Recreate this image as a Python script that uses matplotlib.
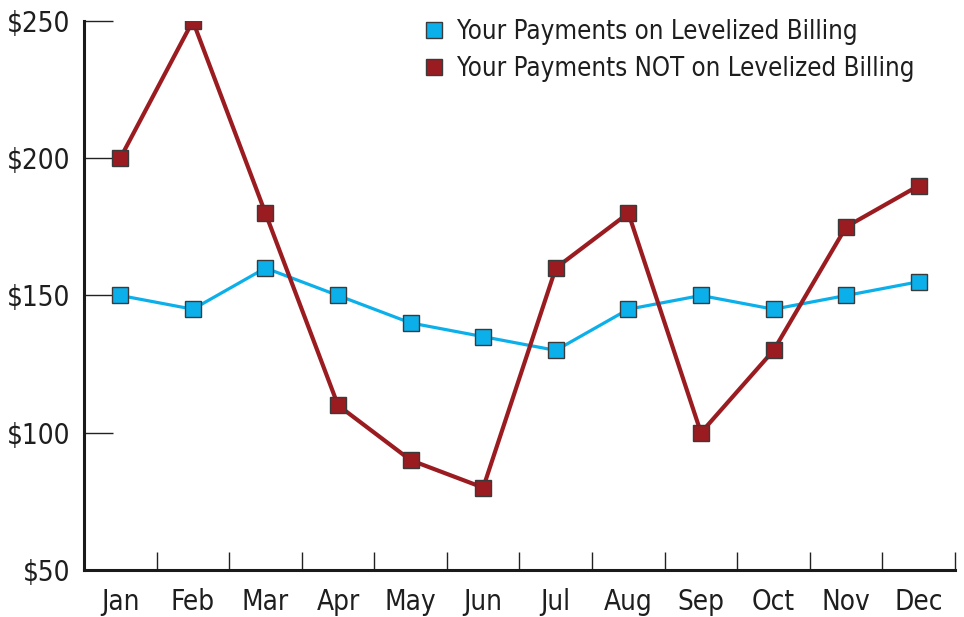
import matplotlib
matplotlib.use("Agg")
import matplotlib.pyplot as plt
from matplotlib.ticker import FixedLocator, NullFormatter

months = ["Jan", "Feb", "Mar", "Apr", "May", "Jun",
          "Jul", "Aug", "Sep", "Oct", "Nov", "Dec"]
levelized = [150, 145, 160, 150, 140, 135, 130, 145, 150, 145, 150, 155]
not_levelized = [200, 250, 180, 110, 90, 80, 160, 180, 100, 130, 175, 190]
y_ticks = [50, 100, 150, 200, 250]
y_labels = ["$50", "$100", "$150", "$200", "$250"]

BLUE = "#0bb0ea"
RED = "#9b1c20"
EDGE = "#3a3a3a"
TXT = "#1e1e1e"

plt.rcParams["font.family"] = ["DejaVu Sans"]
plt.rcParams["font.stretch"] = "condensed"

fig = plt.figure(figsize=(9.64, 6.17), dpi=100)
ax = fig.add_axes([0.0871, 0.0762, 0.9036, 0.8898])

x = [i + 0.5 for i in range(len(months))]
ax.plot(x, levelized, color=BLUE, lw=2.3, marker="s", ms=11,
        mfc=BLUE, mec=EDGE, mew=1.0, label="Your Payments on Levelized Billing", zorder=3)
ax.plot(x, not_levelized, color=RED, lw=3, marker="s", ms=11,
        mfc=RED, mec=EDGE, mew=1.0, label="Your Payments NOT on Levelized Billing", zorder=4)

ax.set_xlim(0, 12)
ax.set_ylim(50, 250)

# month names centred, tick marks between months
ax.xaxis.set_major_locator(FixedLocator(range(13)))
ax.xaxis.set_major_formatter(NullFormatter())
ax.xaxis.set_minor_locator(FixedLocator(x))
ax.set_xticklabels(months, minor=True)
ax.tick_params(axis="x", which="major", direction="in", length=13, width=1.0, color="#222222")
ax.tick_params(axis="x", which="minor", length=0, pad=13, labelsize=20, labelcolor=TXT)

ax.set_yticks(y_ticks)
ax.set_yticklabels(y_labels)
ax.tick_params(axis="y", direction="in", length=21, width=1.0, color="#222222",
               pad=10, labelsize=20, labelcolor=TXT)

for side in ("top", "right"):
    ax.spines[side].set_visible(False)
for side in ("left", "bottom"):
    ax.spines[side].set_linewidth(2.2)
    ax.spines[side].set_color("#1a1a1a")

ax.legend(loc="upper left", bbox_to_anchor=(0.363, 1.045), frameon=False,
          fontsize=18.5, handlelength=0.8, handletextpad=0.5, labelspacing=0.42,
          labelcolor=TXT)
leg = ax.get_legend()
for h in leg.legend_handles:
    h.set_linestyle("none")

fig.savefig("out.png", dpi=100)
